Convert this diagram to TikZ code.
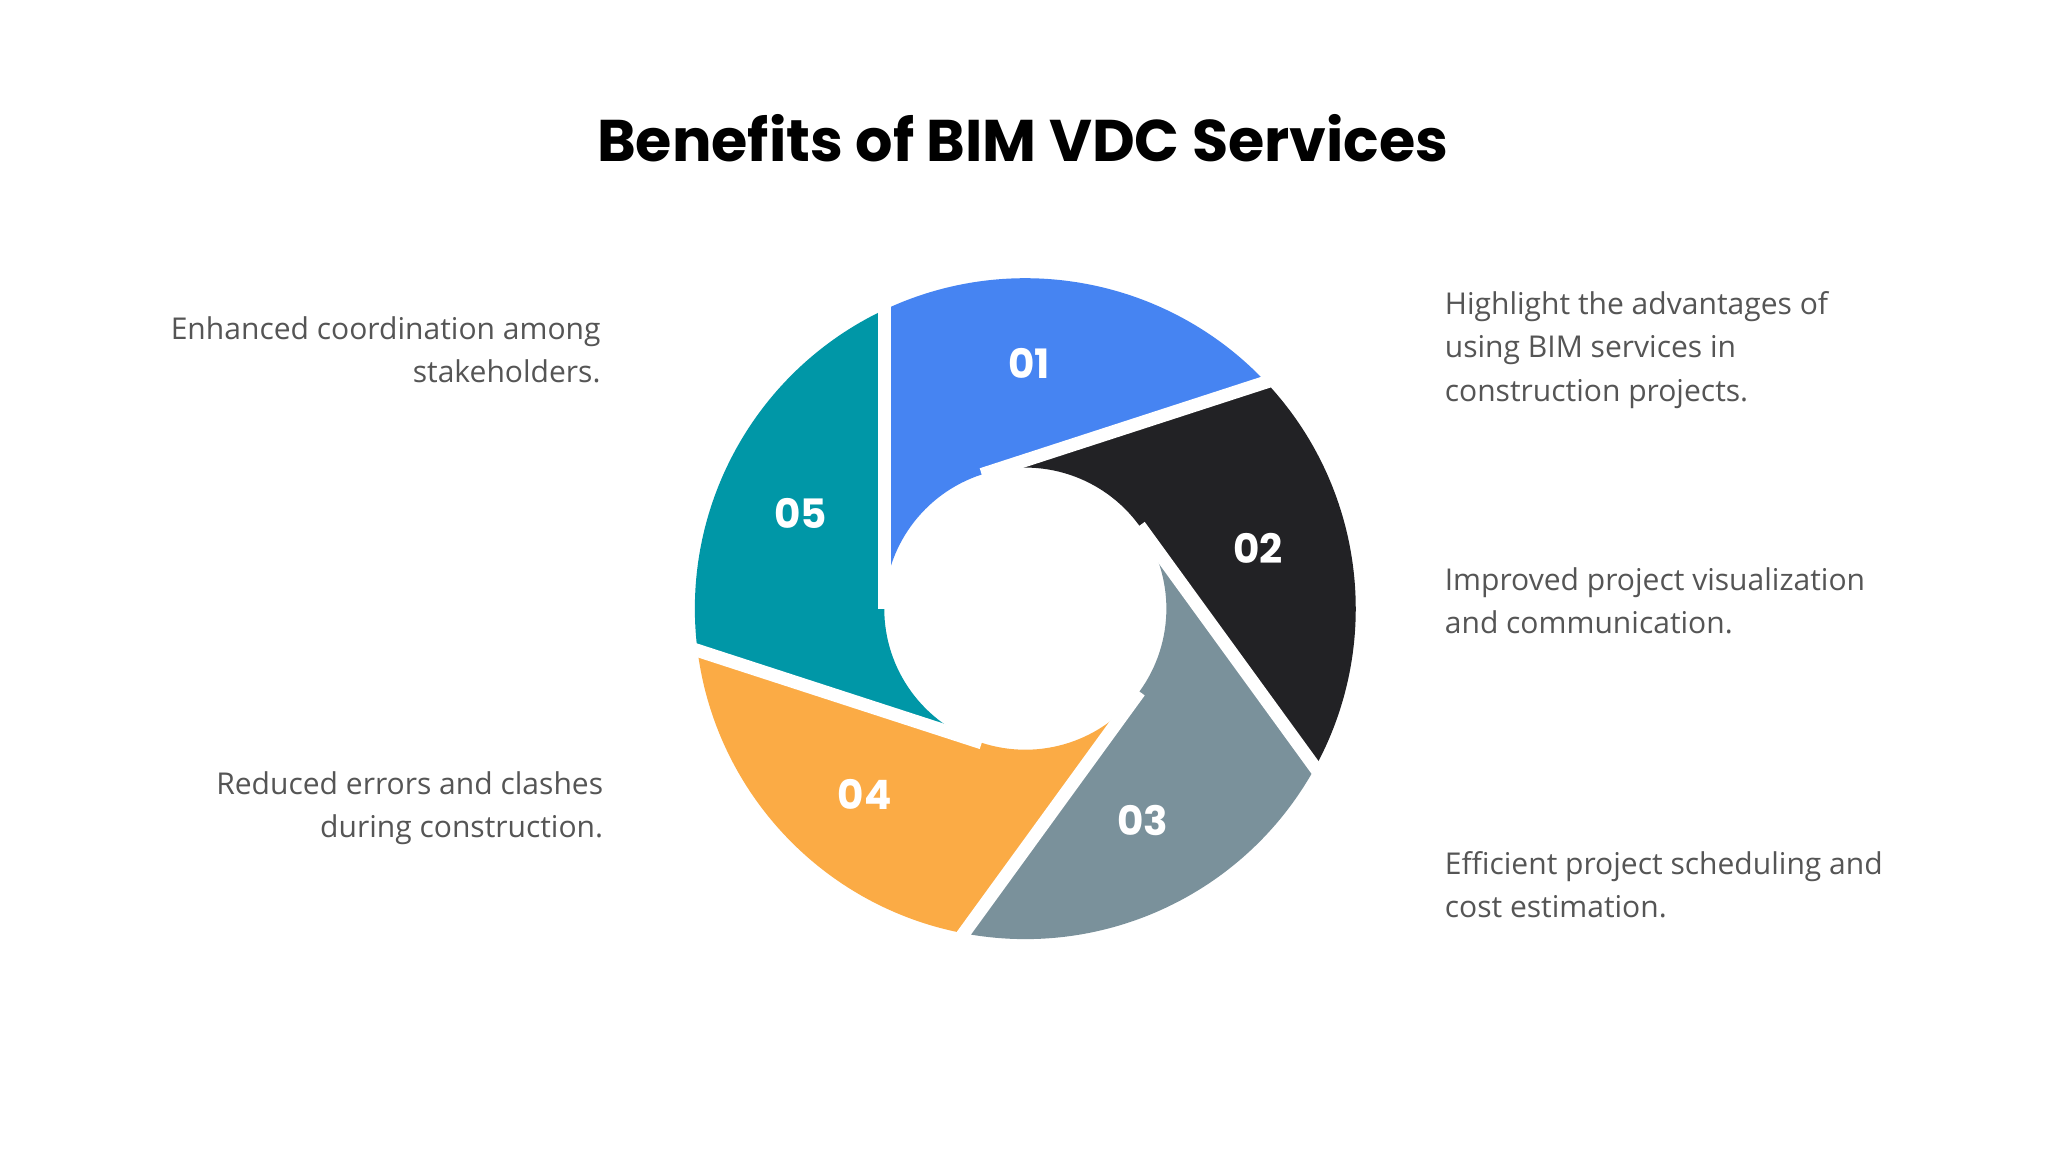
\documentclass[tikz,border=0pt]{standalone}
\usepackage{fontspec}
\setmainfont{Open Sans}
\newfontfamily\titlefont{Poppins}
\definecolor{sA}{HTML}{4684F2}
\definecolor{sB}{HTML}{222225}
\definecolor{sC}{HTML}{7A919B}
\definecolor{sD}{HTML}{FBAB45}
\definecolor{sE}{HTML}{0097A7}
\definecolor{txt}{HTML}{555555}
\begin{document}
\begin{tikzpicture}[x=1pt,y=-1pt,
  body/.style={inner sep=0pt,text=txt,font=\fontsize{23}{33}\selectfont},
  num/.style={inner sep=0pt,text=white,font=\titlefont\bfseries\fontsize{31}{31}\selectfont}]
\fill[white] (0,0) rectangle (1568,882);
\useasboundingbox (0,0) rectangle (1568,882);
\node[inner sep=0pt,font=\titlefont\fontsize{45}{45}\selectfont\bfseries] (title) at (783,106) {Benefits of BIM VDC Services};
\begin{scope}[shift={(785,466)},y=1pt]
\foreach \a/\c in {180/sA,108/sB,36/sC,-36/sD,-108/sE}{
  \fill[\c] (\a:108) -- (\a-64.7:253) arc[start angle=\a-64.7,end angle=\a-136.7,radius=253]
     -- (\a-72:108) arc[start angle=\a-72,end angle=\a,radius=108] -- cycle;
}
\foreach \a in {180,108,36,-36,-108}{
  \draw[white,line width=10pt] (\a:108) -- ++(\a-90:245);
}
\end{scope}
\node[num] (n1) at (788,278) {01};
\node[num] (n2) at (963,420) {02};
\node[num] (n3) at (875,628) {03};
\node[num] (n4) at (662,608) {04};
\node[num] (n5) at (613,393) {05};
\node[body,anchor=west,align=left] (t1) at (1106,268) {Highlight the advantages of\\using BIM services in\\construction projects.};
\node[body,anchor=west,align=left] (t2) at (1106,460) {Improved project visualization\\and communication.};
\node[body,anchor=west,align=left] (t3) at (1106,677.5) {Efficient project scheduling and\\cost estimation.};
\node[body,anchor=east,align=right] (t5) at (460,267.5) {Enhanced coordination among\\stakeholders.};
\node[body,anchor=east,align=right] (t4) at (462,618.5) {Reduced errors and clashes\\during construction.};
\end{tikzpicture}
\end{document}
